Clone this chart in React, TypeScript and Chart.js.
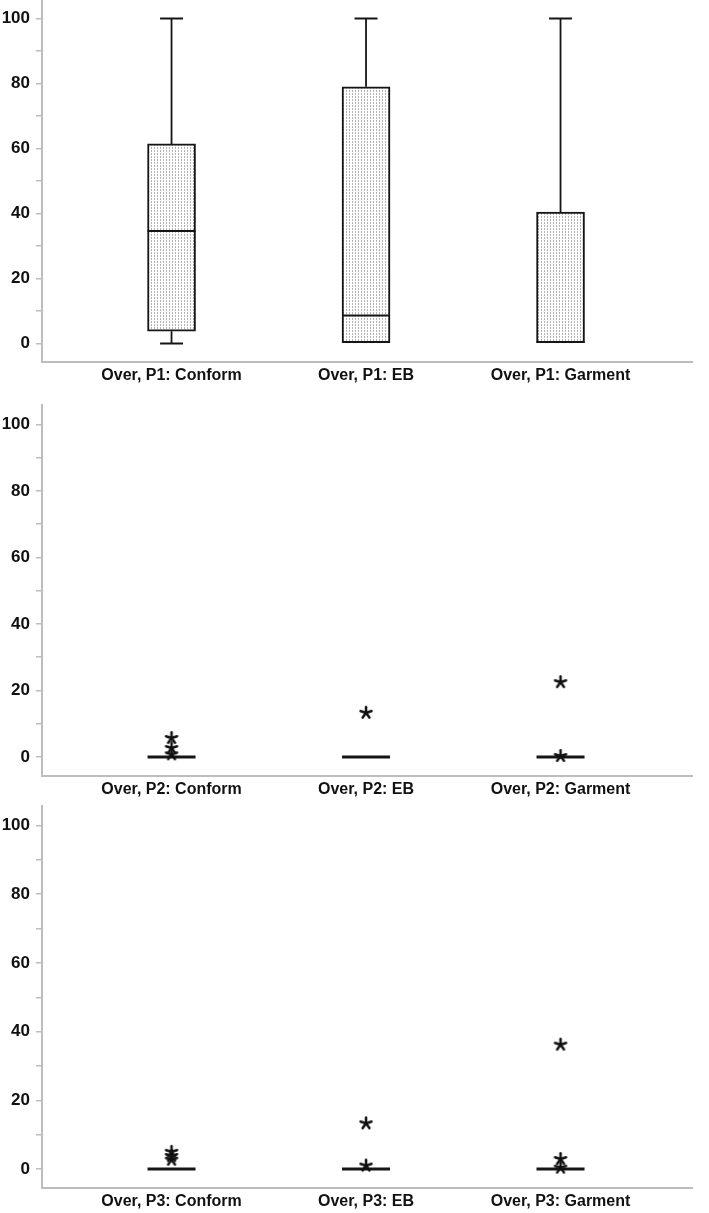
import React, { useEffect, useRef } from 'react';
import { Chart, registerables } from 'chart.js';

Chart.register(...registerables);

// ---------- data ----------
const groups = ['Conform', 'EB', 'Garment'];
const yTickValues = [0, 10, 20, 30, 40, 50, 60, 70, 80, 90, 100];

const p1Min = [0, 0, 0];
const p1Q1 = [3.8, 0, 0];
const p1Median = [34.6, 8.6, 0.5];
const p1Q3 = [61.4, 79, 40.4];
const p1Max = [100, 100, 100];
const p1Outliers: number[][] = [[], [], []];

const p2Min = [0, 0, 0];
const p2Q1 = [0, 0, 0];
const p2Median = [0, 0, 0];
const p2Q3 = [0, 0, 0];
const p2Max = [0, 0, 0];
const p2Outliers: number[][] = [[5.7, 2.7, 0.8], [13.3], [22.5, 0.3]];

const p3Min = [0, 0, 0];
const p3Q1 = [0, 0, 0];
const p3Median = [0, 0, 0];
const p3Q3 = [0, 0, 0];
const p3Max = [0, 0, 0];
const p3Outliers: number[][] = [[5.0, 3.8, 2.7], [13.3, 1.0], [36.2, 2.9, 0.4]];

// ---------- layout ----------
type Panel = {
  name: string;
  min: number[]; q1: number[]; median: number[]; q3: number[]; max: number[];
  outliers: number[][];
  plotTop: number; plotBottom: number; yMin: number; yMax: number;
};

const panels: Panel[] = [
  { name: 'P1', min: p1Min, q1: p1Q1, median: p1Median, q3: p1Q3, max: p1Max, outliers: p1Outliers,
    plotTop: 0, plotBottom: 362, yMin: -5.69, yMax: 105.69 },
  { name: 'P2', min: p2Min, q1: p2Q1, median: p2Median, q3: p2Q3, max: p2Max, outliers: p2Outliers,
    plotTop: 405, plotBottom: 776, yMin: -5.71, yMax: 105.8 },
  { name: 'P3', min: p3Min, q1: p3Q1, median: p3Median, q3: p3Q3, max: p3Max, outliers: p3Outliers,
    plotTop: 806, plotBottom: 1188, yMin: -5.53, yMax: 105.68 },
];

const PAD_TOP = 20;
const XAXIS_H = 40;
const YAXIS_W = 42;
const CANVAS_W = 709;
const PAD_RIGHT = 17;
const X_MIN = -0.666;
const X_MAX = 2.676;
const BOX_HALF = 0.1234;
const CAP_HALF = 0.059;
const FONT = "Arial, 'Liberation Sans', sans-serif";
const AXIS_GRAY = '#bdbdbd';
const INK = '#151515';

function makePattern(ctx: CanvasRenderingContext2D) {
  const c = document.createElement('canvas');
  c.width = 3; c.height = 3;
  const g = c.getContext('2d')!;
  g.fillStyle = '#ffffff';
  g.fillRect(0, 0, 3, 3);
  g.fillStyle = '#b4b4b4';
  g.fillRect(1, 0, 1, 1);
  g.fillRect(1, 2, 1, 1);
  return ctx.createPattern(c, 'repeat');
}

function makeStar() {
  const c = document.createElement('canvas');
  c.width = 16; c.height = 16;
  const g = c.getContext('2d')!;
  g.strokeStyle = '#111';
  g.lineWidth = 2.5;
  g.lineCap = 'round';
  const cx = 8, cy = 8, r = 5.8;
  for (let k = 0; k < 5; k++) {
    const a = -Math.PI / 2 + (k * 2 * Math.PI) / 5;
    g.beginPath();
    g.moveTo(cx, cy);
    g.lineTo(cx + r * Math.cos(a), cy + r * Math.sin(a));
    g.stroke();
  }
  return c;
}

function PanelChart({ p }: { p: Panel }) {
  const ref = useRef<HTMLCanvasElement | null>(null);
  const height = PAD_TOP + (p.plotBottom - p.plotTop) + XAXIS_H;

  useEffect(() => {
    const canvas = ref.current!;
    const ctx = canvas.getContext('2d')!;
    const pattern = makePattern(ctx);
    const star = makeStar();

    const boxData = groups
      .map((_, i) => ({ x: i, y: [p.q1[i], p.q3[i]] }))
      .filter((d, i) => p.q3[i] > p.q1[i]);

    const whisker: any[] = [];
    groups.forEach((_, i) => {
      if (p.max[i] > p.q3[i]) {
        whisker.push({ x: i, y: p.q3[i] }, { x: i, y: p.max[i] }, { x: i, y: null });
        whisker.push({ x: i - CAP_HALF, y: p.max[i] }, { x: i + CAP_HALF, y: p.max[i] }, { x: i, y: null });
      }
      if (p.min[i] < p.q1[i]) {
        whisker.push({ x: i, y: p.q1[i] }, { x: i, y: p.min[i] }, { x: i, y: null });
        whisker.push({ x: i - CAP_HALF, y: p.min[i] }, { x: i + CAP_HALF, y: p.min[i] }, { x: i, y: null });
      }
    });

    const med: any[] = [];
    groups.forEach((_, i) => {
      med.push({ x: i - BOX_HALF, y: p.median[i] }, { x: i + BOX_HALF, y: p.median[i] }, { x: i, y: null });
    });
    const collapsed = groups.every((_, i) => p.q3[i] === p.q1[i]);

    const outl: any[] = [];
    p.outliers.forEach((arr, i) => arr.forEach((v) => outl.push({ x: i, y: v })));

    const chart = new Chart(canvas, {
      type: 'bar',
      data: {
        datasets: [
          {
            type: 'bar',
            data: boxData as any,
            backgroundColor: pattern as any,
            borderColor: INK,
            borderWidth: 2,
            borderSkipped: false,
            barThickness: 48,
            order: 3,
          } as any,
          {
            type: 'line',
            data: whisker,
            borderColor: INK,
            borderWidth: 1.8,
            pointRadius: 0,
            spanGaps: false,
            fill: false,
            order: 2,
          } as any,
          {
            type: 'line',
            data: med,
            borderColor: INK,
            borderWidth: collapsed ? 3 : 2,
            pointRadius: 0,
            spanGaps: false,
            fill: false,
            order: 1,
          } as any,
          {
            type: 'scatter',
            data: outl,
            pointStyle: star as any,
            pointRadius: 6,
            order: 0,
          } as any,
        ],
      },
      options: {
        animation: false,
        responsive: false,
        events: [],
        layout: { padding: { top: PAD_TOP, right: PAD_RIGHT, bottom: 0, left: 0 } },
        plugins: { legend: { display: false }, tooltip: { enabled: false } },
        scales: {
          x: {
            type: 'linear',
            min: X_MIN,
            max: X_MAX,
            offset: false,
            grid: { display: false, drawTicks: false },
            border: { display: true, color: AXIS_GRAY, width: 2 },
            afterBuildTicks: (s: any) => { s.ticks = groups.map((_, i) => ({ value: i })); },
            afterFit: (s: any) => { s.height = XAXIS_H; },
            ticks: {
              autoSkip: false,
              maxRotation: 0,
              padding: 4,
              color: '#111',
              font: { family: FONT, size: 16, weight: 'bold' },
              callback: (v: any) => `Over, ${p.name}: ${groups[Math.round(Number(v))]}`,
            },
          },
          y: {
            type: 'linear',
            min: p.yMin,
            max: p.yMax,
            grid: { display: true, drawOnChartArea: false, drawTicks: true, tickLength: 6, color: AXIS_GRAY, lineWidth: 1.5 },
            border: { display: true, color: AXIS_GRAY, width: 2 },
            afterBuildTicks: (s: any) => { s.ticks = yTickValues.map((v) => ({ value: v })); },
            afterFit: (s: any) => { s.width = YAXIS_W; },
            ticks: {
              padding: 6,
              color: '#111',
              font: { family: FONT, size: 17, weight: 'bold' },
              callback: (v: any) => (Number(v) % 20 === 0 ? String(v) : ''),
            },
          },
        },
      } as any,
    });
    return () => chart.destroy();
  }, [p]);

  return (
    <canvas
      ref={ref}
      width={CANVAS_W}
      height={height}
      style={{ position: 'absolute', left: 0, top: p.plotTop - PAD_TOP, width: CANVAS_W, height }}
    />
  );
}

export default function App() {
  return (
    <div
      style={{
        position: 'fixed',
        left: 0,
        top: 0,
        width: 709,
        height: 1213,
        overflow: 'hidden',
        background: '#ffffff',
      }}
    >
      {panels.map((p) => (
        <PanelChart key={p.name} p={p} />
      ))}
    </div>
  );
}
